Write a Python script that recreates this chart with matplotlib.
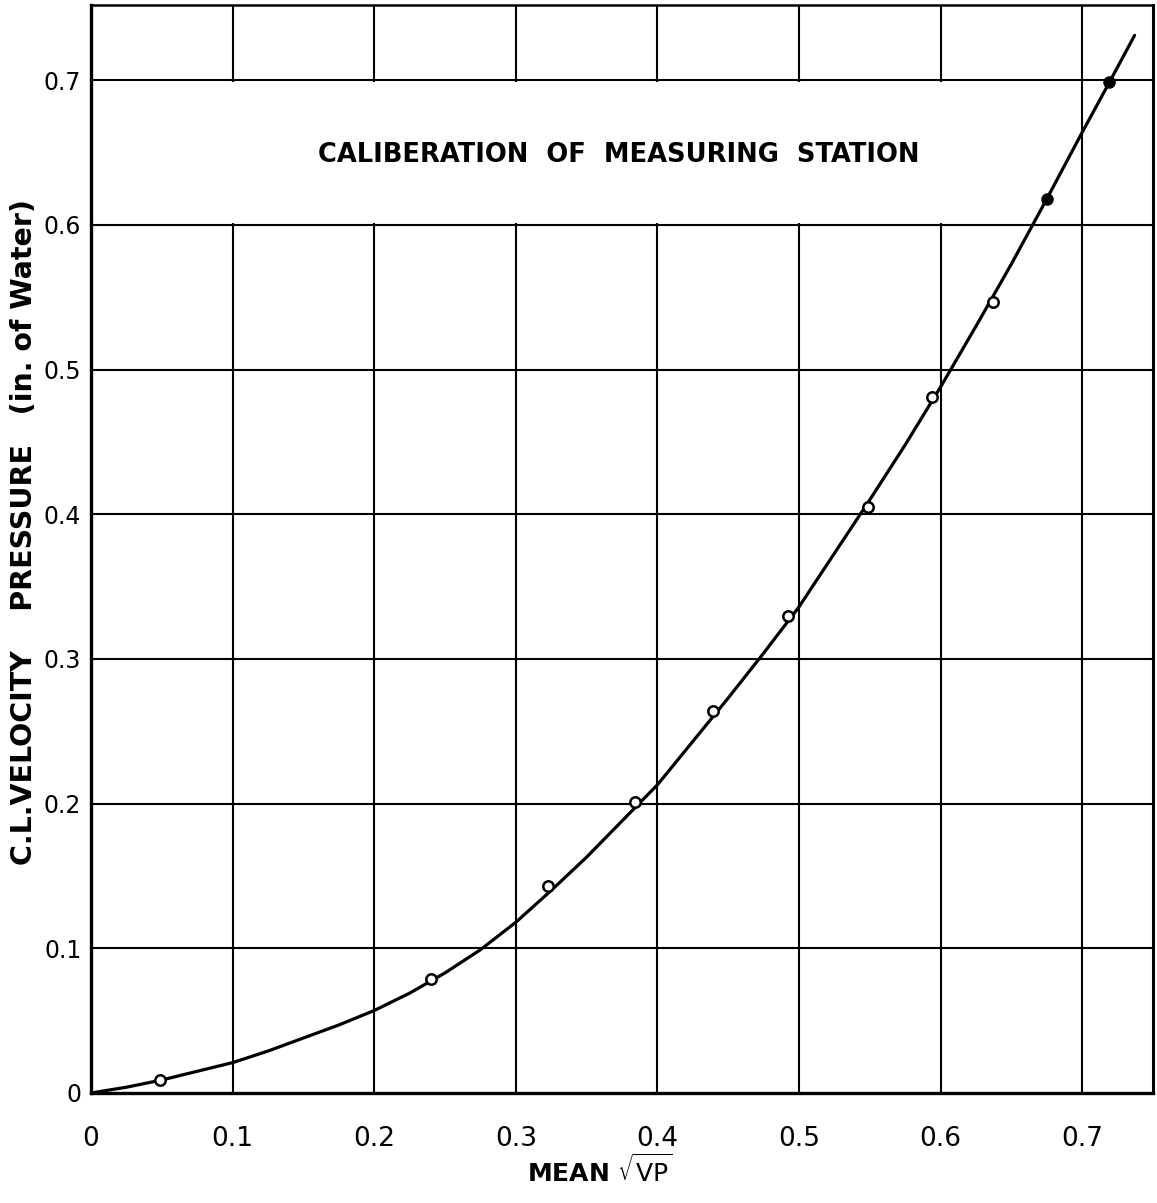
import matplotlib
matplotlib.use("Agg")
import matplotlib.pyplot as plt
from matplotlib.patches import Rectangle

# ---- data ----
x_ticks = [0.0, 0.1, 0.2, 0.3, 0.4, 0.5, 0.6, 0.7]
x_tick_labels = ["0", "0.1", "0.2", "0.3", "0.4", "0.5", "0.6", "0.7"]
y_ticks = [0.0, 0.1, 0.2, 0.3, 0.4, 0.5, 0.6, 0.7]
y_tick_labels = ["0", "0.1", "0.2", "0.3", "0.4", "0.5", "0.6", "0.7"]

# measured points (open circles)
pts_x = [0.049, 0.240, 0.323, 0.384, 0.439, 0.492, 0.549, 0.594, 0.637]
pts_y = [0.009, 0.079, 0.143, 0.201, 0.264, 0.330, 0.405, 0.481, 0.547]
# measured points drawn filled
filled_x = [0.675, 0.719]
filled_y = [0.618, 0.699]

# calibration curve
curve_x = [0.000, 0.025, 0.050, 0.075, 0.100, 0.125, 0.150, 0.175, 0.200,
           0.225, 0.250, 0.275, 0.300, 0.325, 0.350, 0.375, 0.400, 0.425,
           0.450, 0.475, 0.500, 0.525, 0.550, 0.575, 0.600, 0.625, 0.650,
           0.675, 0.700, 0.720, 0.737]
curve_y = [0.000, 0.004, 0.009, 0.015, 0.021, 0.029, 0.038, 0.047, 0.057,
           0.069, 0.083, 0.099, 0.118, 0.140, 0.163, 0.188, 0.213, 0.243,
           0.273, 0.304, 0.336, 0.373, 0.410, 0.448, 0.488, 0.530, 0.573,
           0.618, 0.664, 0.700, 0.731]

title = "CALIBERATION  OF  MEASURING  STATION"
x_label = r"MEAN $\sqrt{\mathrm{VP}}$"
y_label = "C.L.VELOCITY    PRESSURE   (in. of Water)"

# ---- figure ----
W, H = 1157, 1203
fig = plt.figure(figsize=(W / 100, H / 100), dpi=100)
fig.patch.set_facecolor("white")
ax = fig.add_axes([91 / W, 1 - 1093 / H, (1153 - 91) / W, (1093 - 5) / H])
ax.set_xlim(0, 0.75)
ax.set_ylim(0, 0.752)

grid_lw = 1.5
for yv in y_ticks[1:]:
    ax.axhline(yv, color="black", lw=grid_lw, zorder=1)
for xv in x_ticks[1:]:
    ax.axvline(xv, color="black", lw=grid_lw, zorder=1)

# blank band for the title (vertical lines interrupted)
ax.add_patch(Rectangle((0.002, 0.6015), 0.6965, 0.097, facecolor="white",
                       edgecolor="none", zorder=1.5))

ax.text(0.373, 0.648, title, ha="center", va="center", fontsize=18.5,
        fontweight="bold", color="black", zorder=3)

ax.plot(curve_x, curve_y, color="black", lw=2.3, zorder=4,
        solid_joinstyle="round", solid_capstyle="round")
ax.plot(pts_x, pts_y, linestyle="none", marker="o", markersize=7.5,
        markerfacecolor="white", markeredgecolor="black", markeredgewidth=1.8,
        zorder=5)
ax.plot(filled_x, filled_y, linestyle="none", marker="o", markersize=8,
        markerfacecolor="black", markeredgecolor="black", zorder=5)

ax.set_xticks(x_ticks)
ax.set_xticklabels(x_tick_labels)
ax.set_yticks(y_ticks)
ax.set_yticklabels(y_tick_labels)
ax.tick_params(axis="x", length=0, labelsize=19, pad=24)
ax.tick_params(axis="y", length=0, labelsize=17, pad=7)
for s in ax.spines.values():
    s.set_color("black")
ax.spines["left"].set_linewidth(2.4)
ax.spines["bottom"].set_linewidth(2.4)
ax.spines["top"].set_linewidth(1.8)
ax.spines["right"].set_linewidth(2.2)

fig.text(600 / W, 1 - 1171 / H, x_label, ha="center", va="center",
         fontsize=18, fontweight="bold")
fig.text(24 / W, 1 - 532 / H, y_label, ha="center", va="center",
         rotation=90, fontsize=20.5, fontweight="bold")

fig.savefig("out.png", dpi=100, facecolor="white")
